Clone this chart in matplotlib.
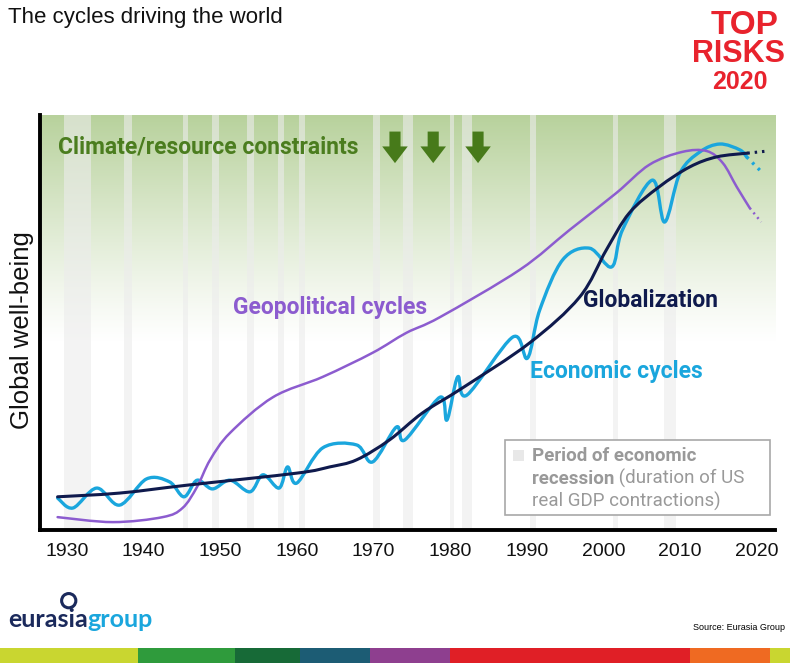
import numpy as np
import matplotlib
matplotlib.use("Agg")
import matplotlib.pyplot as plt
import matplotlib.patches as patches
from matplotlib.path import Path

# values (arbitrary "well-being" scale 0-100)
econ_years = [1928.8, 1930.8, 1933.9, 1936.9, 1940.4, 1943.4, 1945.3, 1947.0, 1949.0,
              1951.3, 1953.9, 1955.6, 1957.7, 1958.8, 1960.0, 1963.4, 1967.8, 1969.9,
              1973.0, 1974.1, 1978.7, 1979.6, 1981.0, 1982.2, 1988.2, 1990.1, 1991.7,
              1994.7, 1998.2, 2001.1, 2002.5, 2006.4, 2008.0, 2010.0, 2012.6, 2015.2,
              2017.8, 2018.7]
econ_vals = [7.7, 5.3, 10.1, 6.0, 12.3, 11.6, 8.0, 12.0, 9.9,
             12.0, 9.2, 13.3, 10.1, 15.2, 11.3, 19.8, 20.5, 16.4,
             24.8, 21.7, 32.0, 26.5, 36.9, 32.5, 46.5, 41.4, 53.0,
             65.1, 67.9, 63.4, 72.3, 84.3, 74.2, 86.0, 91.1, 93.0,
             91.6, 89.9]
econ_proj_years = [2018.7, 2020.8]
econ_proj_vals = [89.9, 86.0]

glob_years = [1928.8, 1936.9, 1945.7, 1960.0, 1964.3, 1967.8, 1972.1, 1976.4, 1981.6,
              1990.4, 1996.9, 2000.4, 2003.4, 2007.3, 2011.3, 2014.8, 2018.8]
glob_vals = [8.0, 8.9, 10.8, 13.7, 15.2, 16.9, 21.7, 28.2, 34.2,
             45.1, 56.1, 67.5, 76.4, 82.7, 87.5, 89.9, 90.8]
glob_proj_years = [2018.8, 2021.4]
glob_proj_vals = [90.8, 91.3]

geo_years = [1928.8, 1936.0, 1942.5, 1945.1, 1947.0, 1948.7, 1951.3, 1956.9, 1963.4,
             1969.9, 1974.3, 1978.7, 1989.1, 1995.6, 2001.7, 2006.0, 2010.3, 2013.5,
             2015.6, 2017.4, 2019.1]
geo_vals = [3.1, 1.9, 3.1, 5.3, 10.4, 16.9, 23.4, 32.0, 36.9,
            42.7, 47.5, 51.3, 62.7, 72.3, 81.2, 88.0, 91.1, 91.3,
            88.4, 82.7, 77.6]
geo_proj_years = [2019.1, 2020.6]
geo_proj_vals = [77.6, 74.2]

# US real GDP contractions
recessions = [(1929.6, 1933.2), (1937.4, 1938.5), (1945.1, 1945.8), (1948.9, 1949.8),
              (1953.5, 1954.4), (1957.6, 1958.3), (1960.3, 1961.1), (1969.9, 1970.9),
              (1973.9, 1975.2), (1980.0, 1980.5), (1981.5, 1982.9), (1990.5, 1991.2),
              (2001.2, 2001.9), (2007.9, 2009.5)]

tick_years = [1930, 1940, 1950, 1960, 1970, 1980, 1990, 2000, 2010, 2020]

PURPLE = "#8c5ccf"
CYAN = "#1aa6dd"
NAVY = "#0f1a4d"
GREEN = "#4b7d1f"


def smooth_path(xs, ys):
    # catmull-rom through the points, as bezier segments
    pts = np.column_stack([xs, ys]).astype(float)
    n = len(pts)
    verts = [pts[0]]
    codes = [Path.MOVETO]
    for i in range(n - 1):
        p0 = pts[max(i - 1, 0)]
        p1 = pts[i]
        p2 = pts[i + 1]
        p3 = pts[min(i + 2, n - 1)]
        c1 = p1 + (p2 - p0) / 6.0
        c2 = p2 - (p3 - p1) / 6.0
        c1[0] = min(max(c1[0], p1[0]), p2[0])
        c2[0] = min(max(c2[0], p1[0]), p2[0])
        verts += [c1, c2, p2]
        codes += [Path.CURVE4] * 3
    return Path(verts, codes)


def draw_line(ax, xs, ys, color, lw, z):
    pp = patches.PathPatch(smooth_path(xs, ys), fill=False, edgecolor=color,
                           lw=lw, capstyle="round", joinstyle="round", zorder=z)
    ax.add_patch(pp)


fig = plt.figure(figsize=(7.9, 6.63), dpi=100)
ax = fig.add_axes([0.0506, 0.2006, 0.9304, 0.626])

# green fade at the top
grad = np.linspace(0, 1, 300)[:, None]
rgba = np.zeros((300, 1, 4))
rgba[..., 0] = 0.72
rgba[..., 1] = 0.82
rgba[..., 2] = 0.61
rgba[..., 3] = np.clip((grad - 0.45) / 0.55, 0, 1) ** 1.15
ax.imshow(rgba, extent=[0, 1, 0, 1], transform=ax.transAxes, origin="lower",
          aspect="auto", zorder=0)

for s, e in recessions:
    ax.axvspan(s, e, color="#ececec", alpha=0.6, lw=0, zorder=1)

draw_line(ax, econ_years, econ_vals, CYAN, 2.4, 3)
draw_line(ax, geo_years, geo_vals, PURPLE, 1.8, 4)
draw_line(ax, glob_years, glob_vals, NAVY, 2.2, 5)
ax.plot(econ_proj_years, econ_proj_vals, color=CYAN, lw=2.4, ls=(0, (0.8, 1.6)), zorder=3)
ax.plot(geo_proj_years, geo_proj_vals, color=PURPLE, lw=1.8, ls=(0, (0.8, 1.6)), zorder=4)
ax.plot(glob_proj_years, glob_proj_vals, color=NAVY, lw=2.2, ls=(0, (0.8, 1.6)), zorder=5)

ax.set_xlim(1926.5, 2022.4)
ax.set_ylim(0, 100)
ax.set_xticks(tick_years)
ax.set_xticklabels([str(t) for t in tick_years], fontsize=14, family="Liberation Sans",
                   color="#111111")
ax.set_yticks([])
ax.tick_params(axis="x", length=0, pad=9)
for sp in ["top", "right"]:
    ax.spines[sp].set_visible(False)
for sp in ["left", "bottom"]:
    ax.spines[sp].set_linewidth(2.8)
    ax.spines[sp].set_color("black")

# labels on the chart
lab = dict(transform=ax.transAxes, fontweight="bold", family="Roboto", va="center")
ax.text(0.0245, 0.923, "Climate/resource constraints", color=GREEN, fontsize=16.5, **lab)
ax.text(0.263, 0.537, "Geopolitical cycles", color=PURPLE, fontsize=16.5, **lab)
ax.text(0.739, 0.554, "Globalization", color=NAVY, fontsize=16.5, **lab)
ax.text(0.667, 0.383, "Economic cycles", color=CYAN, fontsize=16.5, **lab)

for xa in [0.483, 0.535, 0.596]:
    ax.annotate("", xy=(xa, 0.884), xytext=(xa, 0.96), xycoords="axes fraction",
                arrowprops=dict(arrowstyle="simple,head_length=0.75,head_width=1.15,tail_width=0.5",
                                color="#477a1a", lw=0, shrinkA=0, shrinkB=0,
                                mutation_scale=16))

# legend box
ax.add_patch(patches.Rectangle((0.633, 0.036), 0.36, 0.181, transform=ax.transAxes,
                               facecolor="white", edgecolor="#a8a8a8", lw=1.2, zorder=6))
ax.add_patch(patches.Rectangle((0.644, 0.166), 0.015, 0.027, transform=ax.transAxes,
                               facecolor="#e8e8e8", edgecolor="none", zorder=7))
GREY = "#999999"
ax.text(0.669, 0.179, "Period of economic", transform=ax.transAxes, fontsize=13.5,
        fontweight="bold", family="Roboto", color=GREY, va="center", zorder=7)
t1 = ax.text(0.669, 0.124, "recession", transform=ax.transAxes, fontsize=13.5,
             fontweight="bold", family="Roboto", color=GREY, va="center", zorder=7)
ax.annotate(" (duration of US", xy=(1, 0.5), xycoords=t1, fontsize=13.5, family="Roboto",
            color=GREY, va="center", zorder=7)
ax.text(0.669, 0.070, "real GDP contractions)", transform=ax.transAxes, fontsize=13.5,
        family="Roboto", color=GREY, va="center", zorder=7)

# figure texts
fig.text(0.028, 0.502, "Global well-being", rotation=90, fontsize=18.5, family="Liberation Sans",
         va="center", ha="center", color="#111111")
fig.text(0.010, 0.973, "The cycles driving the world", fontsize=16, family="Liberation Sans",
         va="center", ha="left", color="#111111")

RED = "#e8232d"
fig.text(0.943, 0.962, "TOP", fontsize=24, fontweight="bold", family="Liberation Sans",
         color=RED, ha="center", va="center")
fig.text(0.935, 0.919, "RISKS", fontsize=22, fontweight="bold", family="Liberation Sans",
         color=RED, ha="center", va="center")
fig.text(0.937, 0.877, "2020", fontsize=18, fontweight="bold", family="Liberation Sans",
         color=RED, ha="center", va="center")

t2 = fig.text(0.010, 0.065, "eurasia", fontsize=18, fontweight="bold", family="Lato",
              color="#1b2a5c", va="center", ha="left")
ax.annotate("group", xy=(1, 0.5), xycoords=t2, fontsize=18, fontweight="bold", family="Lato",
            color="#1aa6dd", va="center", ha="left", annotation_clip=False)
fig.patches.append(patches.Ellipse((0.087, 0.094), 0.018, 0.0215, transform=fig.transFigure,
                                   fill=False, edgecolor="#1b2a5c", lw=2.2))

fig.text(0.994, 0.054, "Source: Eurasia Group", fontsize=6.5, family="Liberation Sans",
         ha="right", va="center", color="black")

# colour strip at the bottom
strip = [("#c9d630", 0, 138), ("#2f9b3c", 138, 235), ("#176a37", 235, 300),
         ("#1c5c74", 300, 370), ("#8e3f8f", 370, 450), ("#e01f26", 450, 690),
         ("#ef6a22", 690, 770), ("#c9d630", 770, 790)]
for c, x0, x1 in strip:
    fig.patches.append(patches.Rectangle((x0 / 790, 0), (x1 - x0) / 790, 15 / 663,
                                         transform=fig.transFigure, facecolor=c,
                                         edgecolor="none"))

fig.savefig("out.png", dpi=100)
